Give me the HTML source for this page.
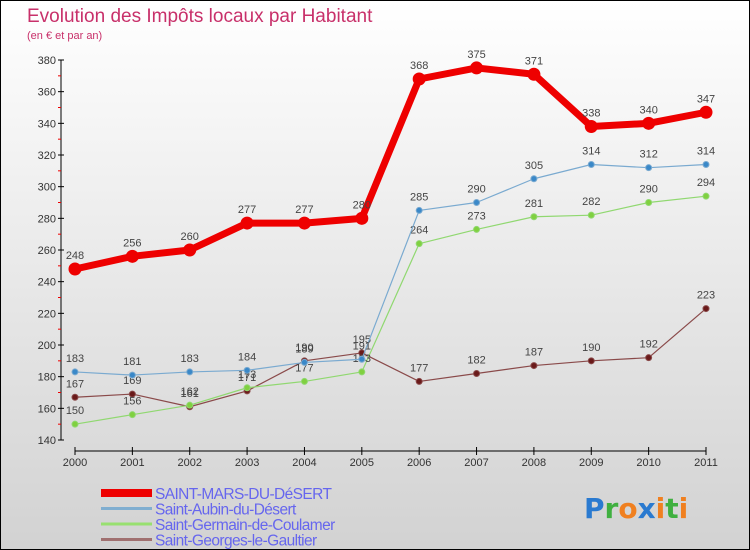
<!DOCTYPE html>
<html><head><meta charset="utf-8"><style>
body{margin:0}
#wrap{width:748px;height:548px;border:1px solid #000;background:linear-gradient(#fff,#d2d2d2);position:relative;overflow:hidden;font-family:"Liberation Sans",sans-serif}
</style></head><body>
<div id="wrap">
<svg id="svg" width="748" height="548"></svg>
</div>
<script>
const years=["2000","2001","2002","2003","2004","2005","2006","2007","2008","2009","2010","2011"];
const yTicks=[140,160,180,200,220,240,260,280,300,320,340,360,380];
const redVals=[248,256,260,277,277,280,368,375,371,338,340,347];
const blueVals=[183,181,183,184,189,191,285,290,305,314,312,314];
const greenVals=[150,156,162,173,177,183,264,273,281,282,290,294];
const brownVals=[167,169,161,171,190,195,177,182,187,190,192,223];
const seriesNames=["SAINT-MARS-DU-DéSERT","Saint-Aubin-du-Désert","Saint-Germain-de-Coulamer","Saint-Georges-le-Gaultier"];
const NS="http://www.w3.org/2000/svg";
const svg=document.getElementById('svg');
function X(i){return 74+i*(631/11);}
function Y(v){return 439-(v-140)*(380/240);}
function el(tag,attrs,parent){const e=document.createElementNS(NS,tag);for(const k in attrs)e.setAttribute(k,attrs[k]);(parent||svg).appendChild(e);return e;}
function txt(x,y,s,attrs){const t=el('text',Object.assign({x:x,y:y},attrs));t.textContent=s;return t;}
let t=txt(26,21,"Evolution des Impôts locaux par Habitant",{fill:"#c8306a","font-size":"19"});

t=txt(26,38,"(en € et par an)",{fill:"#c8306a","font-size":"11"});

// axes
let a=el('line',{x1:60,y1:Y(380),x2:60,y2:Y(140),stroke:"#000"});

a=el('line',{x1:X(0),y1:450,x2:X(11),y2:450,stroke:"#000"});

yTicks.forEach((v,i)=>{
  el('line',{x1:57,y1:Y(v),x2:63,y2:Y(v),stroke:"#000"});
  if(i<yTicks.length-1) el('line',{x1:57,y1:Y(v+10),x2:60,y2:Y(v+10),stroke:"#e00"});
  const l=txt(55,Y(v)+4,String(v),{fill:"#333","font-size":"11","text-anchor":"end"});
  
});
years.forEach((y,i)=>{
  el('line',{x1:X(i),y1:446,x2:X(i),y2:454,stroke:"#000"});
  const l=txt(X(i),465,y,{fill:"#333","font-size":"11","text-anchor":"middle"});
  
});
function series(vals,color,w,r,dot,name,labelColor){
  const g=el('g',{});
  
  el('polyline',{points:vals.map((v,i)=>X(i)+","+Y(v)).join(" "),fill:"none",stroke:color,"stroke-width":w,"stroke-linejoin":"round"},g);
  vals.forEach((v,i)=>{
    const c=el('circle',{cx:X(i),cy:Y(v),r:r,fill:dot,stroke:color,"stroke-width":1},g);
    
    const l=txt(X(i),Y(v)-10,String(v),{fill:"#444","font-size":"11","text-anchor":"middle"},);
    g.appendChild(l);
  });
}
series(brownVals,"#8a4a4a",1.2,3,"#6a1a1a","series-saint-georges");
series(greenVals,"#90d870",1.2,3,"#80d040","series-saint-germain");
series(blueVals,"#7aaad0",1.2,3,"#3a88c8","series-saint-aubin");
series(redVals,"#ee0000",7,6,"#ee0000","series-saint-mars");
// legend
const lc=["#ee0000","#80aed0","#98e070","#a07070"],lw=[8,3,3,3];
seriesNames.forEach((n,i)=>{
  const g=el('g',{});
  
  const y=492+i*15.5;
  el('line',{x1:100,y1:y,x2:151,y2:y,stroke:lc[i],"stroke-width":lw[i]},g);
  g.appendChild(txt(154,y+6,n,{fill:"#6666ee","font-size":"15.5","letter-spacing":"-0.6"}));
});
// logo
const lg=el('text',{x:583,y:517,"font-size":"28","font-family":"DejaVu Sans, sans-serif","font-weight":"bold"});

[["P","#2a7ad0"],["r","#40b040"],["o","#f08020"],["x","#2a7ad0"],["i","#f08020"],["t","#40b040"],["i","#f08020"]].forEach(([c,f])=>{const s=document.createElementNS(NS,'tspan');s.setAttribute('fill',f);s.textContent=c;lg.appendChild(s);});
</script>
</body></html>
